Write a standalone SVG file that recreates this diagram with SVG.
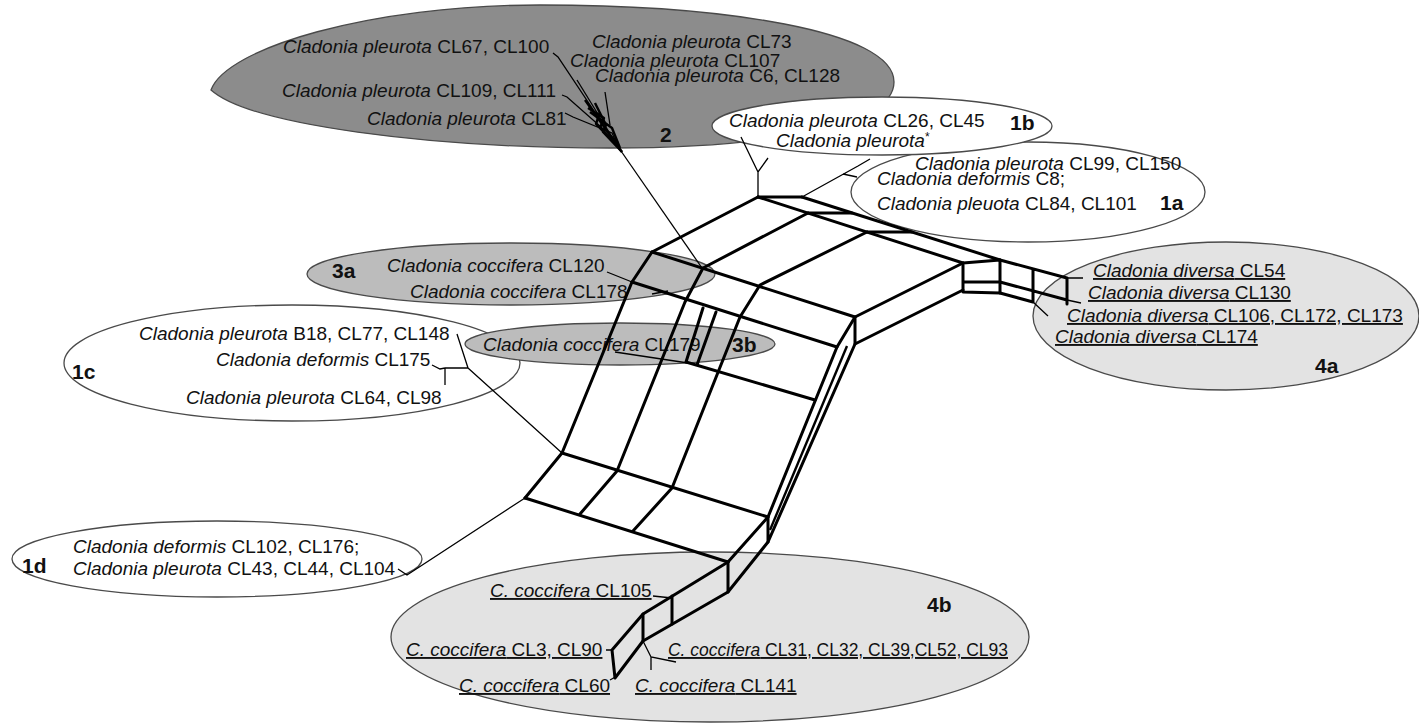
<svg xmlns="http://www.w3.org/2000/svg" width="1419" height="724" viewBox="0 0 1419 724">
<style>
.t{font-family:"Liberation Sans",Arial,Helvetica,sans-serif;font-size:19px;fill:#111}
.i{font-style:italic}
.b{font-family:"Liberation Sans",Arial,Helvetica,sans-serif;font-weight:bold;font-size:21px;fill:#111}
.u{text-decoration:underline}
.ell{stroke:#4a4a4a;stroke-width:1.3}
.net{fill:none;stroke:#000;stroke-width:3;stroke-linejoin:round;stroke-linecap:round}
.thin{fill:none;stroke:#000;stroke-width:1.3}
.mid{fill:none;stroke:#000;stroke-width:2.4;stroke-linejoin:round}
</style>
<rect width="1419" height="724" fill="#fff"/>
<g id="hg2">
<path class="ell" fill="#8c8c8c" d="M211,90 C226,48 370,5 540,5 C720,5 894,30 894,82 C894,128 760,148 610,148 C430,148 250,125 211,90 Z"/>
<text class="t" x="283" y="53"><tspan class="i">Cladonia pleurota</tspan> CL67, CL100</text>
<text class="t" x="592" y="48"><tspan class="i">Cladonia pleurota</tspan> CL73</text>
<text class="t" x="570" y="67"><tspan class="i">Cladonia pleurota</tspan> CL107</text>
<text class="t" x="595" y="82"><tspan class="i">Cladonia pleurota</tspan> C6, CL128</text>
<text class="t" x="282" y="97"><tspan class="i">Cladonia pleurota</tspan> CL109, CL111</text>
<text class="t" x="367" y="125"><tspan class="i">Cladonia pleurota</tspan> CL81</text>
<text class="b" x="660" y="142">2</text>
</g>
<g id="hg1a">
<ellipse class="ell" fill="#fff" cx="1028" cy="192" rx="177" ry="50"/>
<text class="t" x="915" y="170"><tspan class="i">Cladonia pleurota</tspan> CL99, CL150</text>
<text class="t" x="877" y="185"><tspan class="i">Cladonia deformis</tspan> C8;</text>
<text class="t" x="877" y="210"><tspan class="i">Cladonia pleuota</tspan> CL84, CL101</text>
<text class="b" x="1160" y="210">1a</text>
</g>
<g id="hg1b">
<ellipse class="ell" fill="#fff" cx="882" cy="126" rx="170" ry="29"/>
<text class="t" x="729" y="127"><tspan class="i">Cladonia pleurota</tspan> CL26, CL45</text>
<text class="t" x="776" y="147"><tspan class="i">Cladonia pleurota</tspan><tspan font-size="12" dy="-6">*</tspan></text>
<text class="b" x="1010" y="130">1b</text>
</g>
<g id="hg3a">
<ellipse class="ell" fill="#bcbcbc" cx="511" cy="274" rx="204" ry="31"/>
<text class="b" x="332" y="278">3a</text>
<text class="t" x="387" y="272"><tspan class="i">Cladonia coccifera</tspan> CL120</text>
<text class="t" x="410" y="298"><tspan class="i">Cladonia coccifera</tspan> CL178</text>
</g>
<g id="hg1c">
<ellipse class="ell" fill="#fff" cx="292" cy="363" rx="228" ry="58"/>
<text class="t" x="139" y="340"><tspan class="i">Cladonia pleurota</tspan> B18, CL77, CL148</text>
<text class="t" x="216" y="366"><tspan class="i">Cladonia deformis</tspan> CL175</text>
<text class="t" x="186" y="404"><tspan class="i">Cladonia pleurota</tspan> CL64, CL98</text>
<text class="b" x="72" y="379">1c</text>
</g>
<g id="hg3b">
<ellipse class="ell" fill="#bcbcbc" cx="620" cy="344" rx="155" ry="21"/>
<text class="t" x="483" y="351"><tspan class="i">Cladonia coccifera</tspan> CL179</text>
<text class="b" x="732" y="352">3b</text>
</g>
<g id="hg4a">
<ellipse class="ell" fill="#e3e3e3" cx="1226" cy="316" rx="193" ry="74"/>
<text class="t u" x="1093" y="277"><tspan class="i">Cladonia diversa</tspan> CL54</text>
<text class="t u" x="1088" y="299"><tspan class="i">Cladonia diversa</tspan> CL130</text>
<text class="t u" x="1067" y="322"><tspan class="i">Cladonia diversa</tspan> CL106, CL172, CL173</text>
<text class="t u" x="1055" y="343"><tspan class="i">Cladonia diversa</tspan> CL174</text>
<text class="b" x="1315" y="373">4a</text>
</g>
<g id="hg4b">
<ellipse class="ell" fill="#e3e3e3" cx="710" cy="637" rx="319" ry="85"/>
<text class="t u" x="490" y="597"><tspan class="i">C. coccifera</tspan> CL105</text>
<text class="b" x="927" y="612">4b</text>
<text class="t u" x="406" y="656"><tspan class="i">C. coccifera</tspan> CL3, CL90</text>
<text class="t u" x="668" y="656" textLength="340" lengthAdjust="spacingAndGlyphs"><tspan class="i">C. coccifera</tspan>  CL31, CL32, CL39,CL52, CL93</text>
<text class="t u" x="459" y="692"><tspan class="i">C. coccifera</tspan> CL60</text>
<text class="t u" x="635" y="692"><tspan class="i">C. coccifera</tspan> CL141</text>
</g>
<g id="hg1d">
<ellipse class="ell" fill="#fff" cx="217" cy="559" rx="205" ry="38"/>
<text class="b" x="22" y="573">1d</text>
<text class="t" x="73" y="553"><tspan class="i">Cladonia deformis</tspan> CL102, CL176;</text>
<text class="t" x="73" y="575"><tspan class="i">Cladonia pleurota</tspan> CL43, CL44, CL104</text>
</g>
<g id="connectors">
<path class="thin" d="M553,53 L558,57 L620,150"/>
<path class="thin" d="M562,95 L567,97 L618,142"/>
<path class="thin" d="M565,113 L573,117 L612,133 L620,150"/>
<path class="thin" d="M577,80 L620,150"/>
<path class="thin" d="M605,92 L610,125"/>
<path class="mid" d="M585,100 L622,152"/>
<path class="mid" d="M595,103 L606,125 L603,132 L622,152"/>
<path class="mid" d="M590,112 L612,128 L620,148"/>
<path class="mid" d="M600,112 L596,124 L612,140"/>
<path class="mid" d="M588,108 L604,118 L600,128 L617,146"/>
<path class="thin" stroke-width="1.6" d="M621,151 L702,268"/>
<path class="thin" stroke-width="1.6" d="M741,137 L758,172 L768,158 M758,172 L758,197"/>
<path class="thin" stroke-width="1.6" d="M802,197 L858,166 L870,159 M843,174 L857,177"/>
<path class="net" d="M758,197 L802,197"/>
<path class="net" d="M758,197 L652,252"/>
<path class="net" d="M652,252 L632,282 L562,453 L525,498"/>
<path class="net" d="M808,213 L703,268 L685,302 L617,471 L580,514"/>
<path class="net" d="M867,232 L760,285 L740,317 L672,488 L633,531"/>
<path class="net" d="M758,197 L963,263"/>
<path class="net" d="M802,197 L1000,260"/>
<path class="net" d="M808,213 L852,213 M867,232 L912,232"/>
<path class="net" d="M963,263 L855,317 L837,347 L768,517 L728,562"/>
<path class="net" d="M652,252 L855,317"/>
<path class="net" d="M632,282 L837,347"/>
<path class="net" d="M562,453 L768,517"/>
<path class="net" d="M525,498 L728,562"/>
<path class="net" d="M963,263 L963,292 L1000,293 L1000,260 Z M963,282 L1000,282"/>
<path class="net" d="M1000,260 L1067,278 M1000,282 L1067,300 M1000,293 L1033,302 M1033,269 L1033,302 M1067,278 L1067,304"/>
<path class="net" d="M963,290 L855,344 L855,317"/>
<path class="net" d="M855,344 L768,542 L768,517"/>
<path class="mid" d="M847,346 L770,530"/>
<path class="net" d="M768,542 L728,592 L728,562"/>
<path class="net" d="M728,562 L643,614 L612,650 L615,678 L643,641 L728,592"/>
<path class="net" d="M672,596 L672,624 M643,614 L643,641"/>
<path class="net" d="M703,308 L686,362 M716,312 L697,365 M686,362 L815,400"/>
<path class="thin" d="M607,272 L632,282"/>
<path class="thin" d="M652,294 L668,291"/>
<path class="thin" stroke-width="1.6" d="M615,352 L688,363"/>
<path class="thin" stroke-width="1.6" d="M457,334 L468,368 M445,368 L468,368 M445,368 L445,385 M432,365 L440,369 L445,368 M468,368 L562,453"/>
<path class="thin" stroke-width="1.6" d="M398,569 L407,575 L525,498"/>
<path class="thin" stroke-width="1.6" d="M1067,278 L1083,278 M1067,300 L1081,303 M1033,302 L1048,316"/>
<path class="thin" stroke-width="1.6" d="M653,596 L672,598 M606,650 L612,650 M610,680 L617,676 M643,641 L651,657 L676,662 M651,657 L651,670"/>
</g>
</svg>
